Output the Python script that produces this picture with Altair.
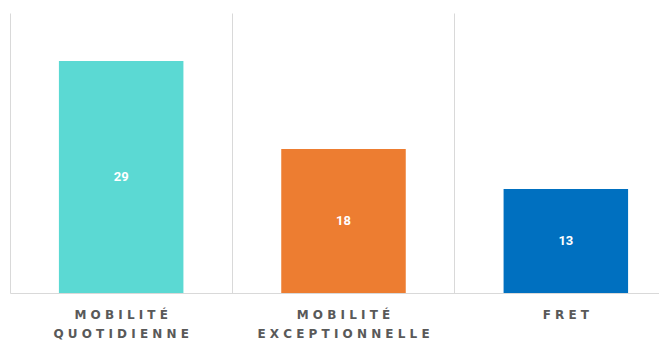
import altair as alt
import pandas as pd

categories = ["Mobilité quotidienne", "Mobilité exceptionnelle", "Fret"]
values = [29, 18, 13]
colors = ["#5BD9D3", "#ED7D31", "#0070C0"]

def spaced(name):
    lines = name.upper().split(" ")
    return "\n".join(" ".join(list(w)) for w in lines)

df = pd.DataFrame({
    "cat": categories,
    "value": values,
    "color": colors,
    "disp": [spaced(c) for c in categories],
})

xscale = alt.Scale(domain=categories, range=[0, 667], paddingInner=0, paddingOuter=0)
x = alt.X("cat:N", sort=categories, title=None, scale=xscale,
          axis=alt.Axis(labels=False, ticks=False, domain=True, domainColor="#d9d9d9",
                        grid=True, gridColor="#d9d9d9", gridWidth=1, bandPosition=0))
yscale = alt.Scale(domain=[0, 35])
y = alt.Y("value:Q", scale=yscale, axis=None)

base = alt.Chart(df)

bars = base.mark_bar(width=alt.RelativeBandSize(0.56)).encode(
    x=x, y=y, color=alt.Color("color:N", scale=None)
)

vals = base.transform_calculate(mid="datum.value / 2").mark_text(
    color="white", font="Roboto", fontWeight="bold", fontSize=13, baseline="middle"
).encode(x=alt.X("cat:N", sort=categories, scale=xscale),
         y=alt.Y("mid:Q", scale=yscale), text="value:Q")

labels = base.mark_text(
    color="#595959", font="DejaVu Sans", fontWeight="bold", fontSize=12, baseline="alphabetic",
    lineBreak="\n", lineHeight=19
).encode(x=alt.X("cat:N", sort=categories, scale=xscale), y=alt.value(305.5), text="disp:N")

chart = (bars + vals + labels).properties(
    width=649, height=280,
    padding={"left": 2, "top": 5, "right": 0, "bottom": 50},
    autosize=alt.AutoSizeParams(type="none"),
).configure_view(stroke=None).configure_axis(gridOpacity=1)

chart.save("out.html", embed_options={"renderer": "svg", "actions": False})
